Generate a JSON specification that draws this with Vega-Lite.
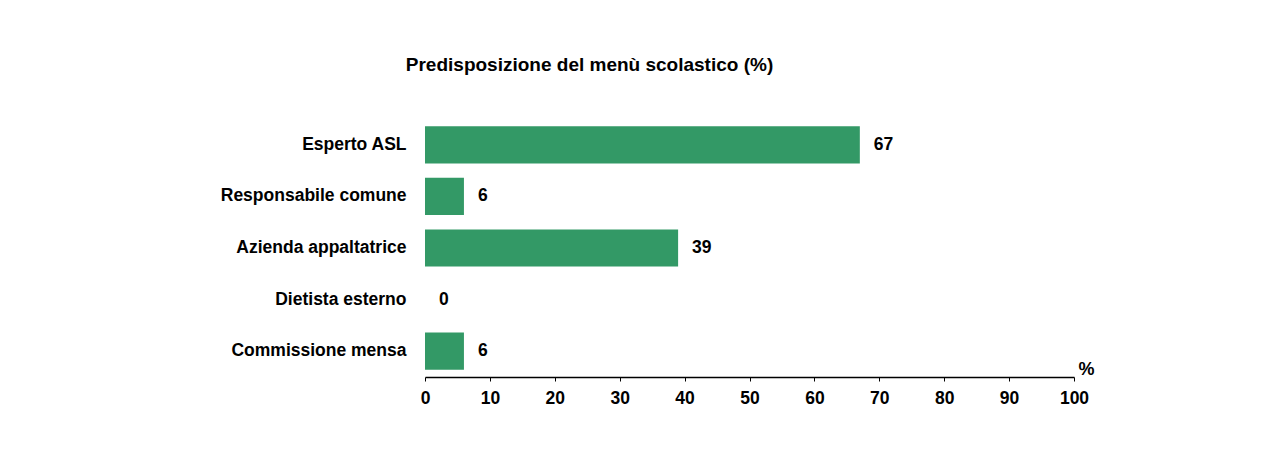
{
  "$schema": "https://vega.github.io/schema/vega-lite/v6.json",
  "autosize": "none",
  "width": 649,
  "height": 258,
  "padding": {"left": 425, "top": 119, "right": 212, "bottom": 93},
  "background": "white",
  "title": {
    "text": "Predisposizione del menù scolastico (%)",
    "anchor": "middle",
    "frame": "group",
    "dx": -160,
    "offset": 44,
    "font": "Liberation Sans",
    "fontSize": 19,
    "fontWeight": "bold",
    "color": "black"
  },
  "data": {
    "values": [
      {"categoria": "Esperto ASL", "valore": 67},
      {"categoria": "Responsabile comune", "valore": 6},
      {"categoria": "Azienda appaltatrice", "valore": 39},
      {"categoria": "Dietista esterno", "valore": 0},
      {"categoria": "Commissione mensa", "valore": 6}
    ]
  },
  "encoding": {
    "y": {
      "field": "categoria",
      "type": "nominal",
      "sort": null,
      "scale": {"paddingInner": 0.28, "paddingOuter": 0.14},
      "axis": {
        "title": null,
        "domain": false,
        "ticks": false,
        "labelPadding": 19,
        "labelFont": "Liberation Sans",
        "labelFontSize": 17.5,
        "labelFontWeight": "bold",
        "labelColor": "black",
        "labelLimit": 400
      }
    },
    "x": {
      "field": "valore",
      "type": "quantitative",
      "scale": {"domain": [0, 100], "nice": false},
      "axis": {
        "values": [0, 10, 20, 30, 40, 50, 60, 70, 80, 90, 100],
        "grid": false,
        "domainColor": "black",
        "domainWidth": 1.5,
        "tickColor": "black",
        "tickSize": 4,
        "labelPadding": 8,
        "labelFlush": false,
        "labelFont": "Liberation Sans",
        "labelFontSize": 17.5,
        "labelFontWeight": "bold",
        "labelColor": "black",
        "title": "%",
        "titleFont": "Liberation Sans",
        "titleFontSize": 18,
        "titleFontWeight": "bold",
        "titleColor": "black",
        "titleAlign": "left",
        "titleAnchor": null,
        "titleBaseline": "bottom",
        "titleX": 653,
        "titleY": 1
      }
    }
  },
  "layer": [
    {"mark": {"type": "bar", "color": "#339966"}},
    {
      "mark": {
        "type": "text",
        "align": "left",
        "baseline": "middle",
        "dx": 14,
        "font": "Liberation Sans",
        "fontSize": 17.5,
        "fontWeight": "bold",
        "color": "black"
      },
      "encoding": {"text": {"field": "valore", "type": "quantitative"}}
    }
  ],
  "config": {"view": {"stroke": null}}
}
